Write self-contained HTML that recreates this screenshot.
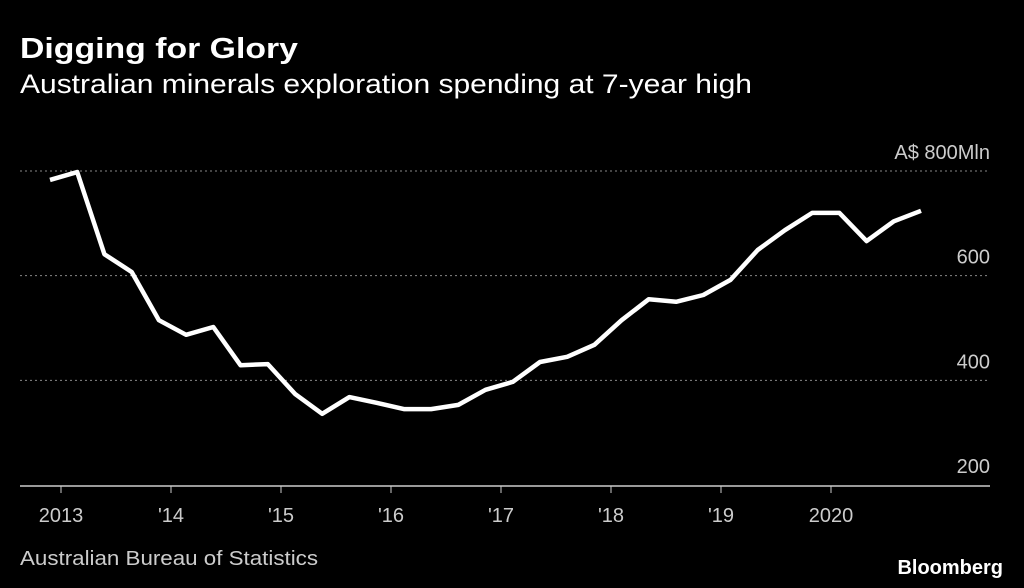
<!DOCTYPE html>
<html><head><meta charset="utf-8"><style>
body{margin:0;background:#000;width:1024px;height:588px;overflow:hidden;font-family:"Liberation Sans",sans-serif;color:#fff}
svg{position:absolute;left:0;top:0}
</style></head><body>
<svg width="1024" height="588">
<text x="20" y="58" font-size="29" font-weight="bold" fill="#fff" textLength="278" lengthAdjust="spacingAndGlyphs">Digging for Glory</text>
<text x="20" y="93" font-size="27" fill="#fff" textLength="732" lengthAdjust="spacingAndGlyphs">Australian minerals exploration spending at 7-year high</text>
<g id="grid"></g><g id="xaxis"></g>
<path id="line" fill="none" stroke="#fff" stroke-width="4.5" stroke-linejoin="round"/>
<text x="20" y="565" font-size="20" fill="#ccc" textLength="298" lengthAdjust="spacingAndGlyphs">Australian Bureau of Statistics</text>
<text x="1003" y="574" font-size="20" font-weight="bold" fill="#fff" text-anchor="end">Bloomberg</text>
</svg>
<script>
const values=[783,798,641,607,515,487,502,429,431,374,336,368,357,345,345,353,382,397,435,445,468,515,555,550,563,592,649,687,720,720,666,704,724];
const yTicks=[200,400,600,800];
const yLabels=["200","400","600","A$ 800Mln"];
const xTicks=[2013,2014,2015,2016,2017,2018,2019,2020];
const xLabels=["2013","'14","'15","'16","'17","'18","'19","2020"];
const NS="http://www.w3.org/2000/svg";
const y=v=>485-(v-200)*0.5233;
const xi=i=>50+i*27.22;
const xy=yr=>61+(yr-2013)*110;
const grid=document.getElementById('grid');
yTicks.forEach((t,i)=>{
 if(t>200){const l=document.createElementNS(NS,'line');
 l.setAttribute('x1',20);l.setAttribute('x2',990);l.setAttribute('y1',y(t));l.setAttribute('y2',y(t));
 l.setAttribute('stroke','#888');l.setAttribute('stroke-dasharray','2,3');
 
 
 grid.appendChild(l);}
 const tx=document.createElementNS(NS,'text');
 tx.setAttribute('x',990);tx.setAttribute('y',y(t)-12);tx.setAttribute('text-anchor','end');
 tx.setAttribute('font-size','20');tx.setAttribute('fill','#ccc');tx.textContent=yLabels[i];
 
 
 grid.appendChild(tx);
});
const xa=document.getElementById('xaxis');
const base=document.createElementNS(NS,'line');
base.setAttribute('x1',20);base.setAttribute('x2',990);base.setAttribute('y1',486);base.setAttribute('y2',486);base.setAttribute('stroke','#ccc');base.setAttribute('stroke-width','1.5');


xa.appendChild(base);
xTicks.forEach((t,i)=>{
 const l=document.createElementNS(NS,'line');
 l.setAttribute('x1',xy(t));l.setAttribute('x2',xy(t));l.setAttribute('y1',486);l.setAttribute('y2',493);l.setAttribute('stroke','#ccc');
 
 
 xa.appendChild(l);
 const tx=document.createElementNS(NS,'text');
 tx.setAttribute('x',xy(t));tx.setAttribute('y',522);tx.setAttribute('text-anchor','middle');
 tx.setAttribute('font-size','20');tx.setAttribute('fill','#ccc');tx.textContent=xLabels[i];
 
 
 xa.appendChild(tx);
});
document.getElementById('line').setAttribute('d',values.map((v,i)=>(i?'L':'M')+xi(i).toFixed(1)+','+y(v).toFixed(1)).join(''));
</script>
</body></html>
